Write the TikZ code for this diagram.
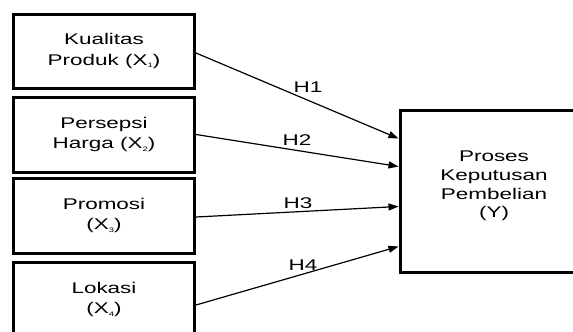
\documentclass[tikz,border=0pt]{standalone}
\usepackage{fontspec}
\setmainfont[FakeStretch=1.45]{Liberation Sans}
\usetikzlibrary{arrows.meta,calc}
\newcommand\xsub[1]{\raisebox{-2.5pt}{\fontsize{6.5}{6.5}\selectfont #1}}
\tikzset{
  varbox/.style={draw, line width=3pt, rectangle, inner sep=0pt,
    minimum width=181pt, minimum height=74pt, align=center,
    font=\fontsize{15.5}{20.5}\selectfont},
  ybox/.style={draw, line width=3pt, rectangle, inner sep=0pt,
    minimum width=188pt, minimum height=162pt},
  ytext/.style={align=center, inner sep=0pt, font=\fontsize{15.5}{18.7}\selectfont},
  hyp/.style={-{Triangle[length=10pt,width=7pt]}, line width=1.2pt},
  hlabel/.style={inner sep=0pt, font=\fontsize{15.5}{18}\selectfont}
}
\begin{document}
\begin{tikzpicture}[x=1pt,y=-1pt]
\useasboundingbox (0,0) rectangle (573,332);
\fill[white] (0,0) rectangle (573,332);
\clip (0,0) rectangle (573,332);
\node[varbox] (k1) at (104,51) {Kualitas\\Produk (X\xsub{1})};
\node[varbox, minimum height=75pt] (k2) at (104,134.5) {Persepsi\\Harga (X\xsub{2})};
\node[varbox, minimum height=75pt] (k3) at (104,215.5) {Promosi\\(X\xsub{3})};
\node[varbox, minimum height=75pt] (k4) at (104,299.5) {Lokasi\\(X\xsub{4})};
\node[ybox] (y) at (494,191) {};
\node[ytext] (yt) at (494,186) {Proses\\Keputusan\\Pembelian\\(Y)};
\draw[hyp] ($(k1.east)+(0,2)$) -- ($(y.north west)+(0,30)$);
\draw[hyp] (k2.east) -- ($(y.north west)+(0,58)$);
\draw[hyp] ($(k3.east)+(0,1.5)$) -- ($(y.north west)+(0,98)$);
\draw[hyp] ($(k4.east)+(0,5.5)$) -- ($(y.north west)+(0,138)$);
\node[hlabel] (h1) at (308,87) {H1};
\node[hlabel] (h2) at (297,140) {H2};
\node[hlabel] (h3) at (298,203) {H3};
\node[hlabel] (h4) at (303,265) {H4};
\end{tikzpicture}
\end{document}
